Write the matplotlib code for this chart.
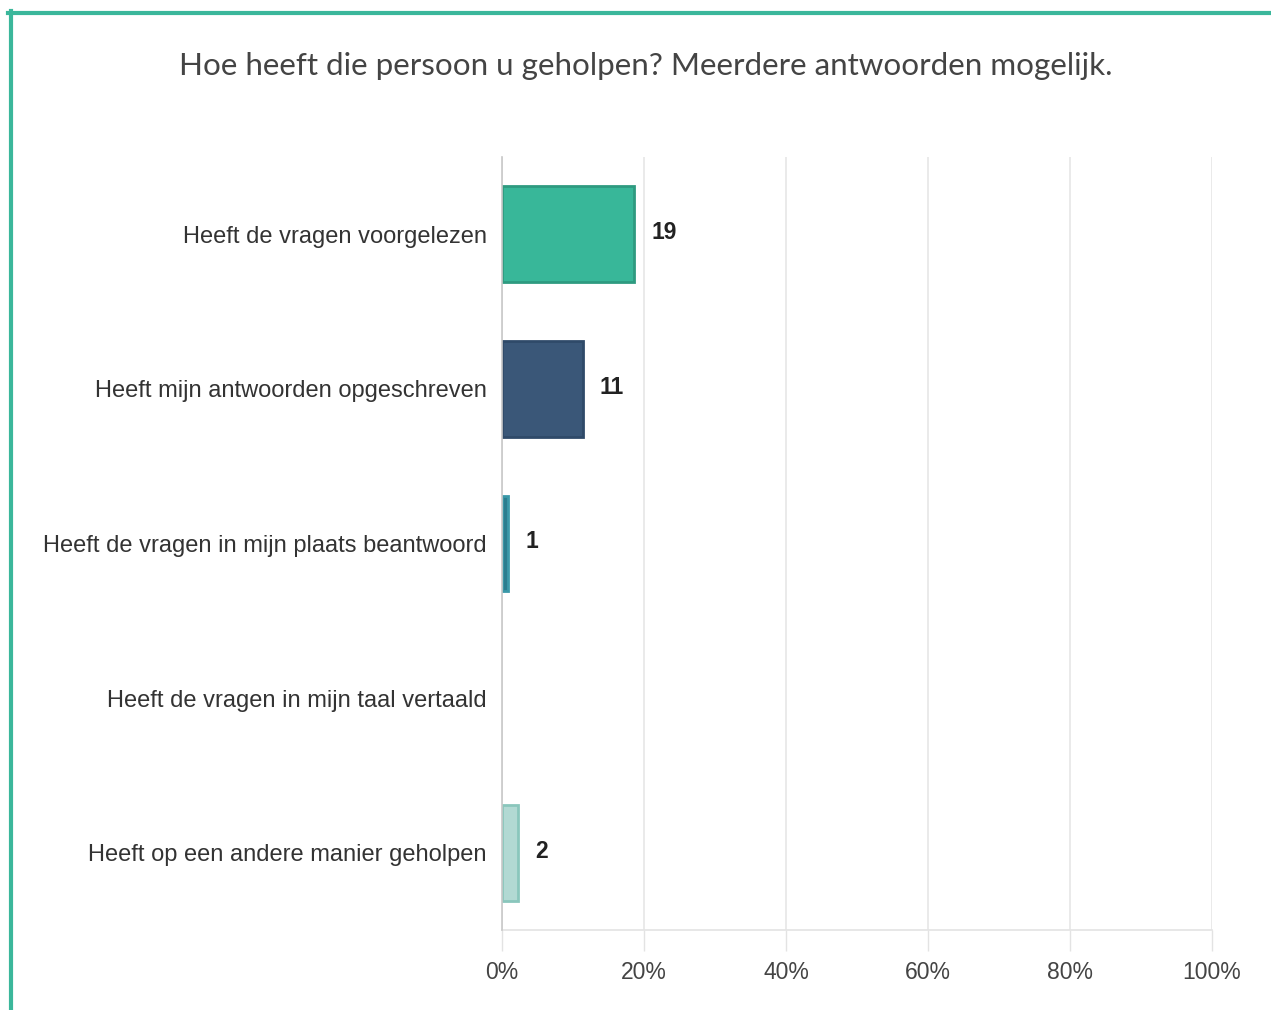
import matplotlib
matplotlib.use("Agg")
import matplotlib.pyplot as plt
from matplotlib.lines import Line2D
from matplotlib.transforms import ScaledTranslation

categories = [
    "Heeft de vragen voorgelezen",
    "Heeft mijn antwoorden opgeschreven",
    "Heeft de vragen in mijn plaats beantwoord",
    "Heeft de vragen in mijn taal vertaald",
    "Heeft op een andere manier geholpen",
]
counts = [19, 11, 1, 0, 2]
percentages = [18.6, 11.4, 0.9, 0.0, 2.3]
bar_colors = ["#38b799", "#3a5778", "#2b7d8e", "#ffffff", "#b2d9d3"]
edge_colors = ["#2e9a80", "#2f4a69", "#3a98a8", "#ffffff", "#8ac6bc"]
xticks = [0, 20, 40, 60, 80, 100]
xtick_labels = ["0%", "20%", "40%", "60%", "80%", "100%"]
title = "Hoe heeft die persoon u geholpen? Meerdere antwoorden mogelijk."

W, H = 1271, 1010
fig = plt.figure(figsize=(W / 100, H / 100), dpi=100)
fig.patch.set_facecolor("white")

# Green frame (top and left edges)
fig.add_artist(Line2D([8 / W, 1.0], [1 - 12.5 / H, 1 - 12.5 / H], color="#3bb79b", lw=3.0,
                      transform=fig.transFigure))
fig.add_artist(Line2D([10.5 / W, 10.5 / W], [0.0, 1 - 11 / H], color="#3bb79b", lw=3.0,
                      transform=fig.transFigure))

fig.text(646 / W, 1 - 66 / H, title, ha="center", va="center", fontsize=22.6,
         family="Lato", color="#444444")

ax = fig.add_axes([502 / W, 1 - 930 / H, (1212 - 502) / W, (930 - 157) / H])
up = ScaledTranslation(0, 3 / 100, fig.dpi_scale_trans)
ypos = list(range(len(categories)))
for i, (p, c, fc, ec) in enumerate(zip(percentages, counts, bar_colors, edge_colors)):
    if p > 0:
        ax.barh(i, p, height=0.62, color=fc, edgecolor=ec, linewidth=2.0, zorder=3)
        ax.text(p + 2.4, i, str(c), ha="left", va="center", fontsize=16.5,
                fontweight="bold", family="Liberation Sans", color="#222222", zorder=4,
                transform=ax.transData + ScaledTranslation(0, 1.5 / 100, fig.dpi_scale_trans))

ax.set_ylim(len(categories) - 0.5, -0.5)
ax.set_xlim(0, 100)
ax.set_yticks(ypos)
ax.set_yticklabels(categories, family="Liberation Sans", fontsize=17, color="#333333")
for lab in ax.get_yticklabels():
    lab.set_transform(lab.get_transform() + up)
ax.set_xticks(xticks)
ax.set_xticklabels(xtick_labels, family="Liberation Sans", fontsize=16.5, color="#444444")
ax.tick_params(axis="y", length=0, pad=11)
ax.tick_params(axis="x", length=15, width=1, color="#e3e3e3", pad=7)
ax.grid(axis="x", color="#e6e6e6", lw=1.2, zorder=0)
for s in ["top", "right"]:
    ax.spines[s].set_visible(False)
ax.spines["left"].set_color("#c8c8c8")
ax.spines["left"].set_linewidth(1.2)
ax.spines["bottom"].set_color("#e3e3e3")
ax.spines["bottom"].set_linewidth(1.2)
ax.spines["left"].set_zorder(5)

fig.savefig("out.png", dpi=100)
